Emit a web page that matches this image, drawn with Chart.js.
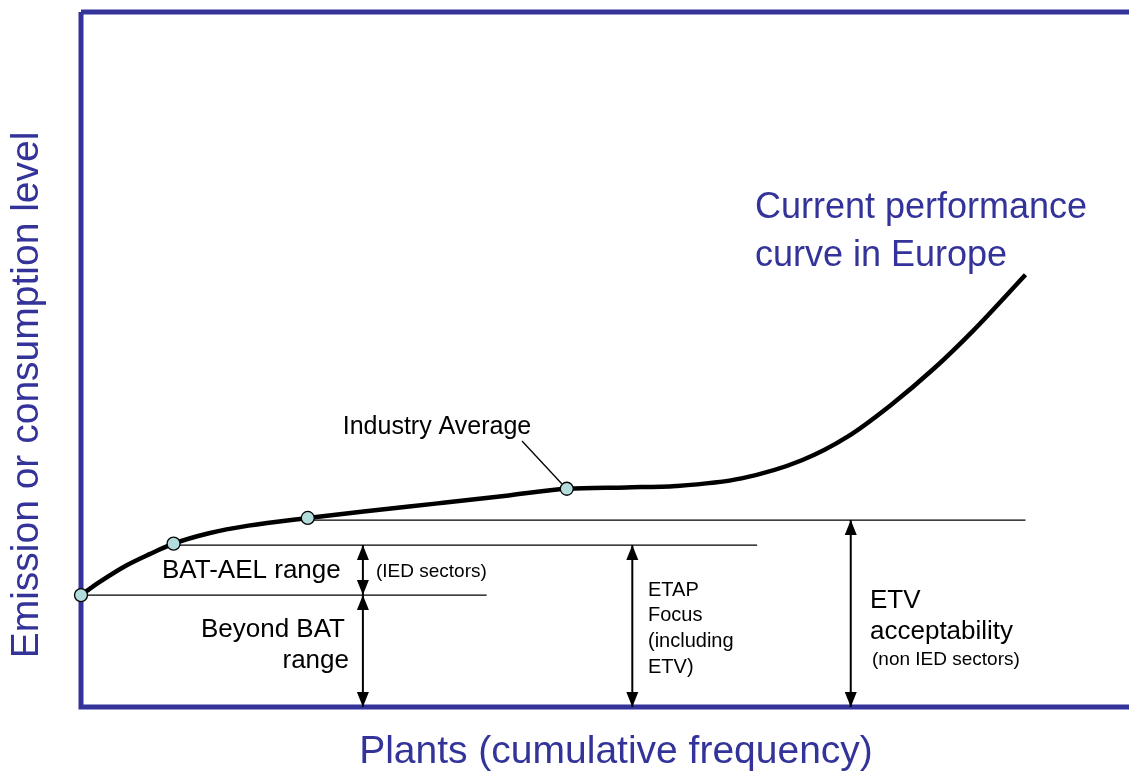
<!DOCTYPE html>
<html>
<head>
<meta charset="utf-8">
<script src="https://cdn.jsdelivr.net/npm/chart.js@4.4.0/dist/chart.umd.min.js"></script>
<style>
  html, body { margin: 0; padding: 0; background: #fff; }
  #wrap { width: 1129px; height: 772px; }
</style>
</head>
<body>
<div id="wrap"><canvas id="perf_chart"></canvas></div>
<script>
// performance curve (x = cumulative share of plants, y = emission level, both 0-100)
const curveX = [0, 1.8, 4.4, 6.6, 8.9, 12.3, 16.1, 21.8, 27.6, 34.3, 40.9, 46.7, 52.4, 57.2, 63.5, 69.3, 73.7, 77.9, 82.0, 85.8, 90.8];
const curveY = [16.1, 18.0, 20.4, 22.0, 23.5, 25.0, 26.1, 27.2, 28.2, 29.3, 30.4, 31.4, 31.6, 31.8, 32.9, 35.5, 38.9, 43.5, 48.7, 54.2, 62.2];

// highlighted points on the curve (last one = industry average)
const markerX = [0, 8.9, 21.8, 46.7];
const markerY = [16.1, 23.5, 27.2, 31.4];

// horizontal reference levels
const levelY = [16.1, 23.3, 26.9];
const levelFrom = [0, 8.9, 21.8];
const levelTo = [39.0, 65.0, 90.8];

// double-headed range arrows
const arrowX = [27.1, 27.1, 53.0, 74.0];
const arrowFrom = [16.1, 0, 0, 0];
const arrowTo = [23.3, 16.1, 23.3, 26.9];

const BLUE = '#333399';
const FONT = "'Liberation Sans', Arial, sans-serif";

const levelSets = levelY.map((y, i) => ({
    type: 'line',
    data: [{ x: levelFrom[i], y: y }, { x: levelTo[i], y: y }],
    borderColor: '#000',
    borderWidth: 1.3,
    pointRadius: 0,
    clip: false,
    order: 3
}));

const arrowSets = arrowX.map((x, i) => ({
    type: 'line',
    data: [{ x: x, y: arrowFrom[i] }, { x: x, y: arrowTo[i] }],
    borderColor: '#000',
    borderWidth: 2,
    pointRadius: 0,
    clip: false,
    order: 3
}));

// frame behind the marks
const frame = {
    id: 'frame',
    beforeDatasetsDraw(chart) {
        const c = chart.ctx;
        const a = chart.chartArea;
        c.save();
        c.strokeStyle = BLUE;
        c.lineWidth = 5;
        c.beginPath();
        c.moveTo(a.left, a.top);
        c.lineTo(chart.width, a.top);
        c.moveTo(a.left, a.top);
        c.lineTo(a.left, a.bottom);
        c.lineTo(chart.width, a.bottom);
        c.stroke();
        c.restore();
    }
};

// text + arrow heads
const decor = {
    id: 'decor',
    afterDatasetsDraw(chart) {
        const c = chart.ctx;
        const sx = chart.scales.x, sy = chart.scales.y;
        c.save();

        // arrow heads
        c.fillStyle = '#000';
        arrowX.forEach((x, i) => {
            const px = sx.getPixelForValue(x);
            const top = sy.getPixelForValue(arrowTo[i]);
            const bot = sy.getPixelForValue(arrowFrom[i]);
            c.beginPath();
            c.moveTo(px, top);
            c.lineTo(px - 6, top + 15);
            c.lineTo(px + 6, top + 15);
            c.closePath();
            c.fill();
            c.beginPath();
            c.moveTo(px, bot);
            c.lineTo(px - 6, bot - 15);
            c.lineTo(px + 6, bot - 15);
            c.closePath();
            c.fill();
        });

        // leader to industry average
        const mx = sx.getPixelForValue(markerX[3]);
        const my = sy.getPixelForValue(markerY[3]);
        c.strokeStyle = '#000';
        c.lineWidth = 1.3;
        c.beginPath();
        c.moveTo(522, 441);
        c.lineTo(mx - 5, my - 5);
        c.stroke();

        const txt = (s, x, y, size, align, color) => {
            c.font = size + 'px ' + FONT;
            c.fillStyle = color || '#000';
            c.textAlign = align || 'left';
            c.textBaseline = 'middle';
            c.fillText(s, x, y);
        };

        txt('Industry Average', 437, 427, 25, 'center');
        txt('BAT-AEL range', 162, 571, 26);
        txt('(IED sectors)', 376, 572, 19);
        txt('Beyond BAT', 345, 630, 26, 'right');
        txt('range', 349, 661, 26, 'right');
        txt('ETAP', 648, 590, 20);
        txt('Focus', 648, 615, 20);
        txt('(including', 648, 641, 20);
        txt('ETV)', 648, 667, 20);
        txt('ETV', 870, 601, 26);
        txt('acceptability', 870, 632, 26);
        txt('(non IED sectors)', 872, 660, 19);
        txt('Current performance', 755, 208, 36, 'left', BLUE);
        txt('curve in Europe', 755, 256, 36, 'left', BLUE);

        // axis titles
        txt('Plants (cumulative frequency)', 616, 752, 39, 'center', BLUE);
        c.translate(27, 395);
        c.rotate(-Math.PI / 2);
        txt('Emission or consumption level', 0, 0, 39, 'center', BLUE);

        c.restore();
    }
};

const ctx = document.getElementById('perf_chart').getContext('2d');
const perf_chart = new Chart(ctx, {
    type: 'line',
    data: {
        datasets: [
            {
                label: 'Current performance curve',
                data: curveX.map((x, i) => ({ x: x, y: curveY[i] })),
                borderColor: '#000',
                borderWidth: 4.5,
                pointRadius: 0,
                cubicInterpolationMode: 'monotone',
                clip: false,
                order: 2
            },
            {
                type: 'scatter',
                label: 'Markers',
                data: markerX.map((x, i) => ({ x: x, y: markerY[i] })),
                backgroundColor: '#b3dcdc',
                borderColor: '#000',
                borderWidth: 1.3,
                pointRadius: 6.5,
                clip: false,
                order: 1
            },
            ...levelSets,
            ...arrowSets
        ]
    },
    options: {
        responsive: true,
        maintainAspectRatio: false,
        animation: false,
        events: [],
        layout: {
            padding: { left: 81, top: 12, right: 0, bottom: 65 }
        },
        plugins: {
            legend: { display: false },
            tooltip: { enabled: false }
        },
        scales: {
            x: { type: 'linear', min: 0, max: 100, display: false },
            y: { type: 'linear', min: 0, max: 100, display: false }
        }
    },
    plugins: [frame, decor]
});
</script>
</body>
</html>
